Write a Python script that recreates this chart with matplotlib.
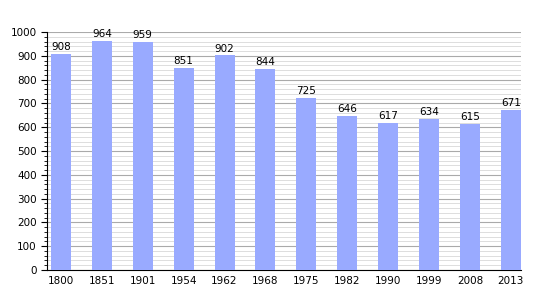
import matplotlib.pyplot as plt
from matplotlib.ticker import MultipleLocator

# Population by census year
years = ["1800", "1851", "1901", "1954", "1962", "1968", "1975", "1982", "1990", "1999", "2008", "2013"]
population = [908, 964, 959, 851, 902, 844, 725, 646, 617, 634, 615, 671]

fig = plt.figure(figsize=(5.5, 3), dpi=100)
ax = fig.add_axes([0.0855, 0.1, 0.8615, 0.793])

x = range(len(years))
ax.bar(x, population, width=0.49, color='#99aaff', zorder=3)
for xi, v in zip(x, population):
    ax.text(xi, v + 8, str(v), ha='center', va='bottom', fontsize=7.5, zorder=4)

ax.set_xlim(-0.34, 11.245)
ax.set_ylim(0, 1000)
ax.set_xticks(list(x))
ax.set_xticklabels(years, fontsize=7.5)
ax.yaxis.set_major_locator(MultipleLocator(100))
ax.yaxis.set_minor_locator(MultipleLocator(20))
ax.tick_params(axis='y', labelsize=7.5, length=4)
ax.tick_params(axis='y', which='minor', length=2)
ax.tick_params(axis='x', length=0, pad=4)

ax.grid(axis='y', which='major', color='#aaaaaa', linewidth=0.8, zorder=1)
ax.grid(axis='y', which='minor', color='#d8d8d8', linewidth=0.6, zorder=1)
for s in ['top', 'right']:
    ax.spines[s].set_visible(False)

plt.savefig("out.png")
